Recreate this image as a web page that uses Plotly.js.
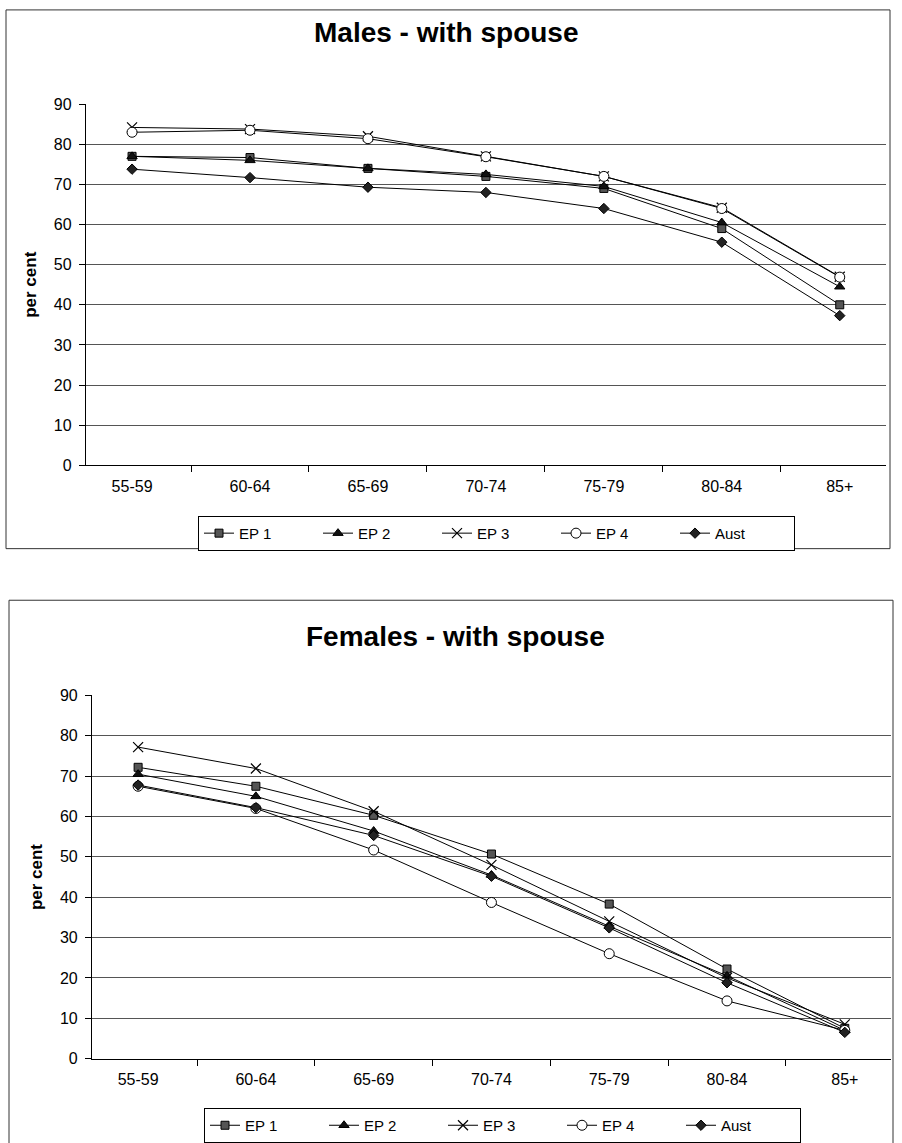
<!DOCTYPE html>
<html>
<head>
<meta charset="utf-8">
<script src="https://cdn.plot.ly/plotly-3.0.1.min.js"></script>
<style>html,body{margin:0;padding:0;background:#fff;}#chart{width:902px;height:1143px;}</style>
</head>
<body>
<div id="chart"></div>
<script>
// ---- data ----
const ageGroups = ['55-59', '60-64', '65-69', '70-74', '75-79', '80-84', '85+'];
const seriesNames = ['EP 1', 'EP 2', 'EP 3', 'EP 4', 'Aust'];

// Males - with spouse (per cent)
const ep1Males  = [77.0, 76.7, 74.0, 72.0, 69.0, 59.0, 40.0];
const ep2Males  = [77.0, 76.0, 74.0, 72.5, 69.5, 60.5, 44.5];
const ep3Males  = [84.2, 83.8, 82.0, 77.0, 72.0, 64.2, 47.0];
const ep4Males  = [83.0, 83.5, 81.4, 76.9, 72.0, 64.0, 46.9];
const austMales = [73.8, 71.7, 69.3, 68.0, 64.0, 55.6, 37.3];

// Females - with spouse (per cent)
const ep1Females  = [72.2, 67.5, 60.3, 50.7, 38.3, 22.2, 7.5];
const ep2Females  = [70.5, 65.0, 56.4, 45.5, 32.8, 20.5, 7.0];
const ep3Females  = [77.2, 71.9, 61.3, 48.0, 34.0, 20.0, 8.5];
const ep4Females  = [67.5, 62.0, 51.7, 38.7, 26.0, 14.3, 7.0];
const austFemales = [67.8, 62.2, 55.3, 45.2, 32.4, 18.8, 6.5];

const yTickVals = [0, 10, 20, 30, 40, 50, 60, 70, 80, 90];

// ---- styling ----
const W = 902, H = 1143;
const FONT = 'Liberation Sans, Arial, sans-serif';
const px = v => v / W;
const py = v => 1 - v / H;

const markerStyles = [
  {symbol: 'square', size: 8, color: '#555', line: {color: '#000', width: 1}},
  {symbol: 'triangle-up', size: 9, color: '#111', line: {color: '#000', width: 1}},
  {symbol: 'x-thin', size: 10, color: '#000', line: {color: '#000', width: 1.2}},
  {symbol: 'circle', size: 10, color: '#fff', line: {color: '#000', width: 1}},
  {symbol: 'diamond', size: 8, color: '#222', line: {color: '#000', width: 1}}
];

function makeTraces(valueSets, xa, ya, legendId) {
  return valueSets.map((vals, i) => ({
    type: 'scatter', mode: 'lines+markers',
    name: seriesNames[i], x: ageGroups, y: vals,
    xaxis: xa, yaxis: ya, legend: legendId,
    line: {color: '#000', width: 1},
    marker: markerStyles[i],
    cliponaxis: false
  }));
}

const traces = [
  ...makeTraces([ep1Males, ep2Males, ep3Males, ep4Males, austMales], 'x', 'y', 'legend'),
  ...makeTraces([ep1Females, ep2Females, ep3Females, ep4Females, austFemales], 'x2', 'y2', 'legend2')
];

function xAxis(domain, anchor) {
  return {
    domain: domain, anchor: anchor, type: 'category',
    showline: true, linecolor: '#000', linewidth: 1,
    ticks: 'outside', ticklen: 6, tickcolor: '#000', tickson: 'boundaries',
    ticklabelstandoff: 6,
    showgrid: false, zeroline: false,
    tickfont: {family: FONT, size: 16, color: '#000'},
    fixedrange: true
  };
}
function yAxis(domain, anchor) {
  return {
    domain: domain, anchor: anchor, range: [0, 90],
    tickvals: yTickVals, ticktext: yTickVals.map(String),
    showline: true, linecolor: '#000', linewidth: 1,
    ticks: 'outside', ticklen: 6, tickcolor: '#000',
    ticklabelstandoff: 4,
    showgrid: true, gridcolor: '#555', gridwidth: 1,
    zeroline: false,
    tickfont: {family: FONT, size: 16, color: '#000'},
    title: {text: '<b>per cent</b>', font: {family: FONT, size: 17, color: '#000'}, standoff: 12},
    fixedrange: true
  };
}

const legendBase = {
  orientation: 'h', xanchor: 'left', yanchor: 'top',
  bgcolor: '#fff', bordercolor: '#000', borderwidth: 1,
  font: {family: FONT, size: 15, color: '#000'},
  entrywidth: 74, entrywidthmode: 'pixels', itemwidth: 30,
  tracegroupgap: 0
};

const layout = {
  width: W, height: H,
  margin: {l: 0, r: 0, t: 0, b: 0},
  paper_bgcolor: '#fff', plot_bgcolor: '#fff',
  showlegend: true,
  xaxis: xAxis([px(85.8), px(886)], 'y'),
  yaxis: yAxis([py(469), py(105)], 'x'),
  xaxis2: xAxis([px(91.9), px(891)], 'y2'),
  yaxis2: yAxis([py(1067), py(701)], 'x2'),
  legend: Object.assign({}, legendBase, {x: px(198), y: py(520)}),
  legend2: Object.assign({}, legendBase, {x: px(204), y: py(1117)}),
  annotations: [
    {text: '<b>Males - with spouse</b>', xref: 'paper', yref: 'paper',
     x: px(446), y: py(33), xanchor: 'center', yanchor: 'middle', showarrow: false,
     font: {family: FONT, size: 28, color: '#000'}},
    {text: '<b>Females - with spouse</b>', xref: 'paper', yref: 'paper',
     x: px(456), y: py(642), xanchor: 'center', yanchor: 'middle', showarrow: false,
     font: {family: FONT, size: 28, color: '#000'}}
  ],
  shapes: [
    {type: 'rect', xref: 'paper', yref: 'paper', x0: px(6), x1: px(890), y0: py(553), y1: py(10),
     line: {color: '#333', width: 1}, fillcolor: 'rgba(0,0,0,0)', layer: 'below'},
    {type: 'rect', xref: 'paper', yref: 'paper', x0: px(9), x1: px(893), y0: py(1160), y1: py(605),
     line: {color: '#333', width: 1}, fillcolor: 'rgba(0,0,0,0)', layer: 'below'}
  ]
};

Plotly.newPlot('chart', traces, layout, {staticPlot: true, displayModeBar: false});
</script>
</body>
</html>
